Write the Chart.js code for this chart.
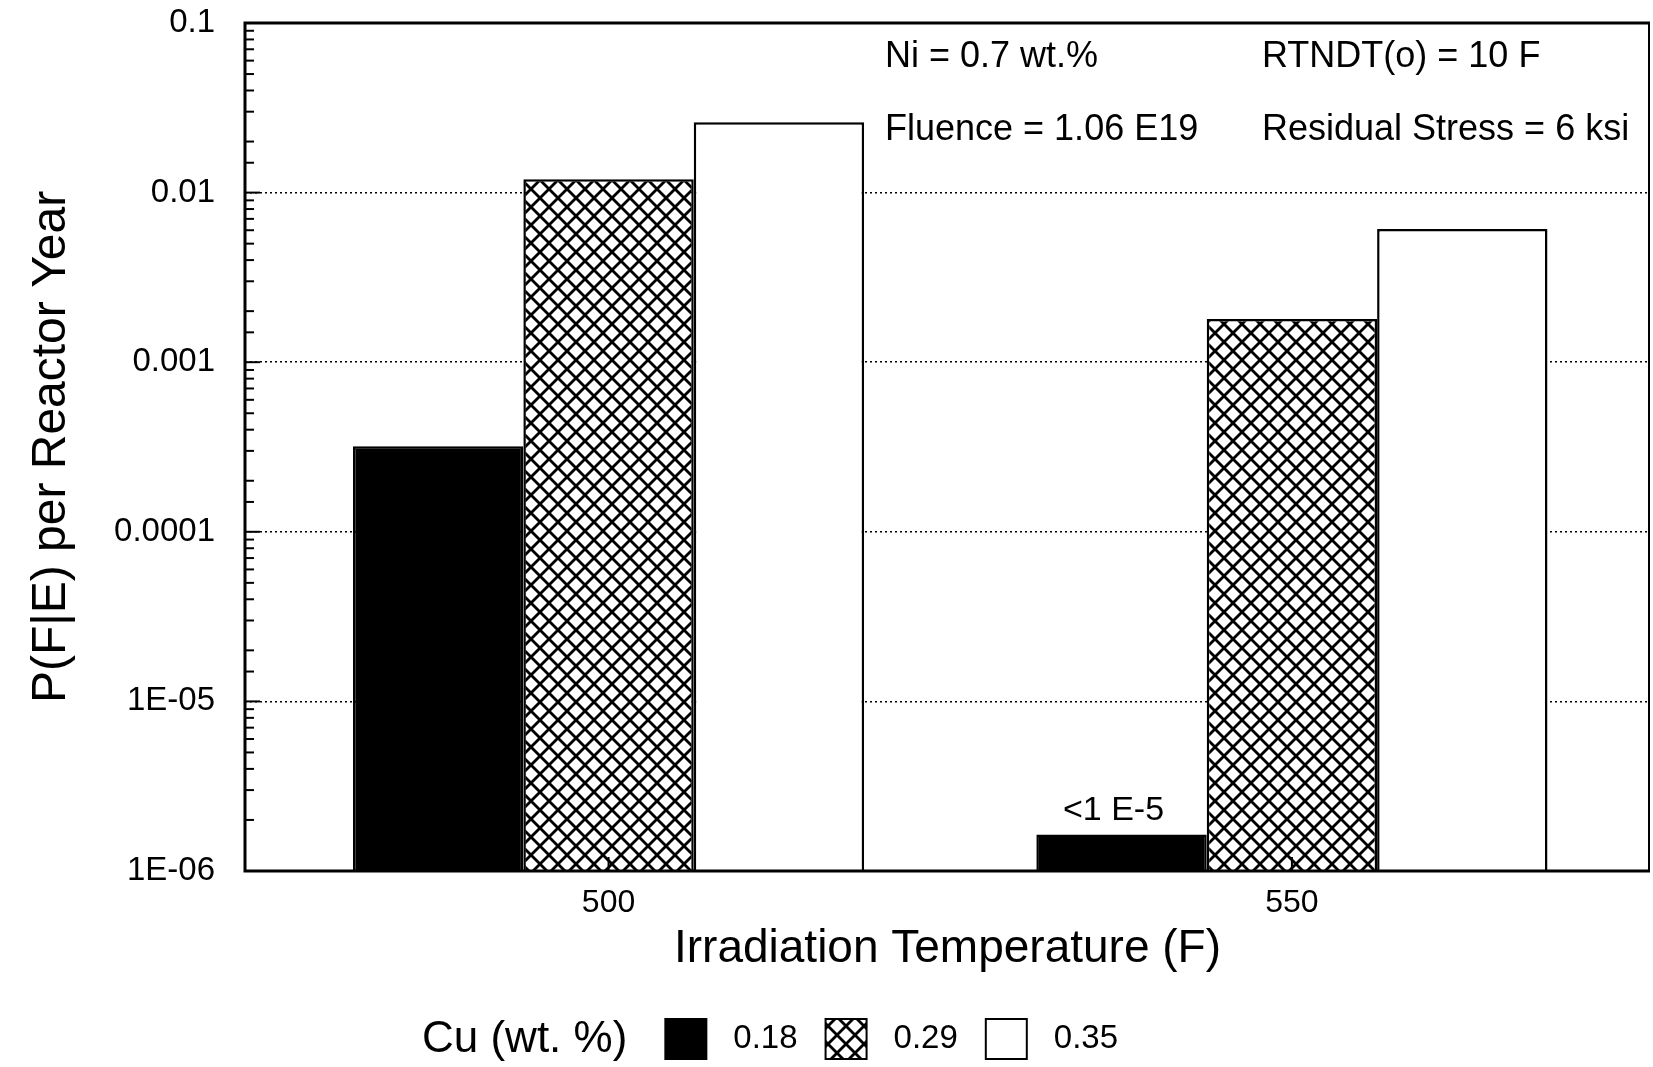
<!DOCTYPE html>
<html>
<head>
<meta charset="utf-8">
<title>P(F|E) per Reactor Year vs Irradiation Temperature</title>
<script src="https://cdn.jsdelivr.net/npm/chart.js@4/dist/chart.umd.min.js"></script>
<style>
  html, body { margin: 0; padding: 0; background: #fff; }
  #wrap { width: 1653px; height: 1067px; }
</style>
</head>
<body>
<div id="wrap"><canvas id="c" width="1653" height="1067"></canvas></div>
<script>
// ---- data ----
const temperatures = [500, 550];                 // irradiation temperature (F)
const cuLabels = ['0.18', '0.29', '0.35'];       // Cu (wt. %)
const cu018 = [3.2e-4, 1.64e-6];
const cu029 = [0.012, 0.0018];
const cu035 = [0.026, 0.0061];
const yTickValues = [0.1, 0.01, 0.001, 0.0001, 1e-5, 1e-6];
const yTickLabels = ['0.1', '0.01', '0.001', '0.0001', '1E-05', '1E-06'];
const noteLeft = ['Ni = 0.7 wt.%', 'Fluence = 1.06 E19'];
const noteRight = ['RTNDT(o) = 10 F', 'Residual Stress = 6 ksi'];
const lowBarNote = '<1 E-5';
const legendTitle = 'Cu (wt. %)';

const FONT = '"Liberation Sans", Arial, Helvetica, sans-serif';
Chart.defaults.font.family = FONT;
Chart.defaults.color = '#000';

const canvas = document.getElementById('c');
const mainCtx = canvas.getContext('2d');

// cross-hatch fill
function makeHatch() {
  const P = 18;
  const tile = document.createElement('canvas');
  tile.width = P; tile.height = P;
  const g = tile.getContext('2d');
  g.fillStyle = '#fff';
  g.fillRect(0, 0, P, P);
  g.strokeStyle = '#000';
  g.lineWidth = 2.8;
  for (const d of [-P, 0, P]) {
    g.beginPath(); g.moveTo(d, 0); g.lineTo(d + P, P); g.stroke();
    g.beginPath(); g.moveTo(d + P, 0); g.lineTo(d, P); g.stroke();
  }
  return mainCtx.createPattern(tile, 'repeat');
}
const hatch = makeHatch();

function decadeIndex(v) {
  const e = Math.log10(v);
  if (Math.abs(e - Math.round(e)) > 1e-6) return -1;
  return yTickValues.findIndex(t => Math.abs(Math.log10(t) - e) < 1e-6);
}

const series = [cu018, cu029, cu035];
const fills = ['#000', hatch, '#fff'];

const datasets = series.map((vals, i) => ({
  label: cuLabels[i],
  data: temperatures.map((t, j) => ({ x: t, y: vals[j] })),
  backgroundColor: fills[i],
  borderColor: '#000',
  borderWidth: 2.5,
  barPercentage: 1.0,
  categoryPercentage: 0.748
}));

// frame, inward tick marks, notes and legend
const decorations = {
  id: 'decorations',
  afterDatasetsDraw(chart) {
    const { ctx, chartArea: a, scales } = chart;
    const ys = scales.y, xs = scales.x;
    ctx.save();
    ctx.strokeStyle = '#000';
    ctx.lineCap = 'butt';
    // y axis inward ticks
    ctx.lineWidth = 2;
    ys.ticks.forEach(t => {
      const py = ys.getPixelForValue(t.value);
      const len = decadeIndex(t.value) >= 0 ? 15 : 9;
      ctx.beginPath(); ctx.moveTo(a.left, py); ctx.lineTo(a.left + len, py); ctx.stroke();
    });
    // x axis inward ticks
    xs.ticks.forEach(t => {
      const px = xs.getPixelForValue(t.value);
      ctx.beginPath(); ctx.moveTo(px, a.bottom); ctx.lineTo(px, a.bottom - 14); ctx.stroke();
    });
    // frame
    ctx.lineWidth = 3;
    ctx.beginPath();
    ctx.moveTo(a.left, a.top); ctx.lineTo(a.right, a.top);
    ctx.moveTo(a.left, a.top - 1.5); ctx.lineTo(a.left, a.bottom + 1.5);
    ctx.moveTo(a.left, a.bottom); ctx.lineTo(a.right, a.bottom);
    ctx.stroke();
    ctx.lineWidth = 2;
    ctx.beginPath(); ctx.moveTo(a.right - 1, a.top); ctx.lineTo(a.right - 1, a.bottom); ctx.stroke();

    // parameter notes
    ctx.fillStyle = '#000';
    ctx.font = '36px ' + FONT;
    ctx.textAlign = 'left';
    ctx.textBaseline = 'alphabetic';
    const rows = [67, 140];
    noteLeft.forEach((s, i) => ctx.fillText(s, 885, rows[i]));
    noteRight.forEach((s, i) => ctx.fillText(s, 1262, rows[i]));

    // note above the low 550 F bar
    const lowBar = chart.getDatasetMeta(0).data[1];
    ctx.font = '34px ' + FONT;
    ctx.textAlign = 'center';
    ctx.fillText(lowBarNote, lowBar.x - 8, lowBar.y - 15);
    ctx.restore();
  },
  afterDraw(chart) {
    const { ctx } = chart;
    ctx.save();
    ctx.fillStyle = '#000';
    ctx.strokeStyle = '#000';
    ctx.textAlign = 'left';
    ctx.textBaseline = 'middle';
    const cy = 1039;
    let x = 422;
    ctx.font = '44px ' + FONT;
    ctx.fillText(legendTitle, x, cy + 1);
    x += ctx.measureText(legendTitle).width + 38;
    ctx.font = '33px ' + FONT;
    chart.data.datasets.forEach(ds => {
      ctx.fillStyle = ds.backgroundColor;
      ctx.fillRect(x, cy - 20, 41, 40);
      ctx.lineWidth = 2;
      ctx.strokeRect(x, cy - 20, 41, 40);
      x += 41 + 27;
      ctx.fillStyle = '#000';
      ctx.fillText(ds.label, x, cy);
      x += ctx.measureText(ds.label).width + 28;
    });
    ctx.restore();
  }
};

new Chart(canvas, {
  type: 'bar',
  data: { datasets },
  options: {
    responsive: false,
    devicePixelRatio: 1,
    animation: false,
    layout: { padding: { left: 0, right: 3, top: 23, bottom: 0 } },
    plugins: { legend: { display: false }, tooltip: { enabled: false } },
    scales: {
      x: {
        type: 'linear',
        offset: false,
        min: 473.4,
        max: 576.2,
        afterBuildTicks: s => { s.ticks = temperatures.map(v => ({ value: v })); },
        afterFit: s => { s.height = 196; s.paddingLeft = 0; s.paddingRight = 0; },
        grid: { display: false, drawTicks: false, tickLength: 0, offset: false },
        border: { display: false },
        ticks: {
          autoSkip: false, maxRotation: 0, padding: 13,
          font: { size: 32 },
          callback: v => String(v)
        },
        title: {
          display: true,
          text: 'Irradiation Temperature (F)',
          font: { size: 46 },
          padding: { top: 0, bottom: 90 }
        }
      },
      y: {
        type: 'logarithmic',
        min: 1e-6,
        max: 0.1,
        afterFit: s => { s.width = 245; s.paddingTop = 0; s.paddingBottom = 0; },
        grid: {
          drawTicks: false,
          tickLength: 0,
          lineWidth: 1.5,
          color: c => {
            const k = decadeIndex(c.tick.value);
            return (k > 0 && k < yTickValues.length - 1) ? '#000' : 'rgba(0,0,0,0)';
          }
        },
        border: { display: false, dash: [2, 3] },
        ticks: {
          autoSkip: false, padding: 30,
          font: { size: 33 },
          callback: v => {
            const k = decadeIndex(v);
            return k >= 0 ? yTickLabels[k] : '';
          }
        },
        title: {
          display: true,
          text: 'P(F|E) per Reactor Year',
          font: { size: 48 },
          padding: { top: 23, bottom: 0 }
        }
      }
    }
  },
  plugins: [decorations]
});
</script>
</body>
</html>
